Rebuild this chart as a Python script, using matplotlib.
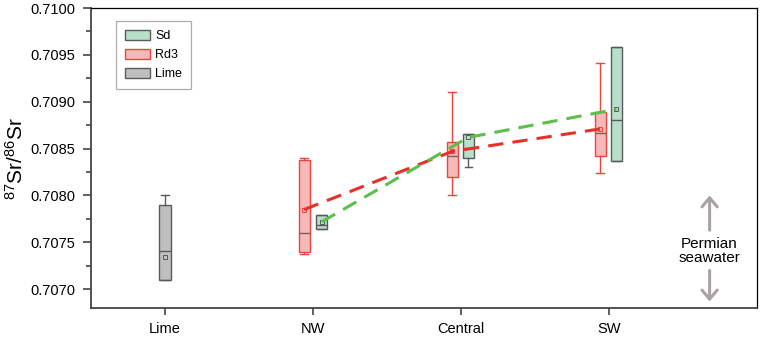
import matplotlib
matplotlib.use("Agg")
import matplotlib.pyplot as plt
from matplotlib.patches import Patch
from matplotlib.ticker import MultipleLocator

plt.rcParams['font.family'] = ['Liberation Sans', 'DejaVu Sans']
plt.rcParams['mathtext.fontset'] = 'custom'
plt.rcParams['mathtext.rm'] = 'Liberation Sans'

# Data
sites = ["Lime", "NW", "Central", "SW"]

# Rd3 stats for NW, Central, SW
rd3_q1 = [0.70740, 0.70820, 0.70842]
rd3_q3 = [0.70838, 0.70857, 0.70889]
rd3_med = [0.70760, 0.70842, 0.70867]
rd3_mean = [0.70785, 0.70847, 0.70871]
rd3_lo = [0.70738, 0.70801, 0.70824]
rd3_hi = [0.70840, 0.70910, 0.70941]

# Sd stats for NW, Central, SW
sd_q1 = [0.707638, 0.70840, 0.70837]
sd_q3 = [0.707790, 0.70866, 0.70958]
sd_med = [0.707688, 0.70851, 0.70881]
sd_mean = [0.70772, 0.70862, 0.70892]
sd_lo = [0.707638, 0.70830, 0.70837]
sd_hi = [0.707790, 0.70866, 0.70958]

# Lime stats
lime_q1, lime_q3, lime_med, lime_mean = 0.70710, 0.70790, 0.70741, 0.70734
lime_lo, lime_hi = 0.70710, 0.70800

RED = "#e8453f"
RED_FILL = "#f6b9b9"
GREEN_FILL = "#b7dfc9"
GRAY_FILL = "#bfbfbf"
EDGE = "#5a5a5a"


def make_stats(q1, q3, med, mean, lo, hi):
    return [dict(q1=a, q3=b, med=c, mean=d, whislo=e, whishi=f, fliers=[])
            for a, b, c, d, e, f in zip(q1, q3, med, mean, lo, hi)]


fig = plt.figure(figsize=(7.62, 3.38), dpi=100)
ax = fig.add_axes([0.1194, 0.0888, 0.874, 0.8875])

xpos = [1, 2, 3, 4]
rd3_x = [x - 0.06 for x in xpos[1:]]
sd_x = [x + 0.05 for x in xpos[1:]]
sd_x[0] = 2.06

mean_style = dict(marker="s", markersize=3.5, markerfacecolor="none", markeredgewidth=0.7)

ax.bxp(make_stats(rd3_q1, rd3_q3, rd3_med, rd3_mean, rd3_lo, rd3_hi),
       positions=rd3_x, widths=0.075, capwidths=0.05, patch_artist=True, showmeans=True,
       boxprops=dict(facecolor=RED_FILL, edgecolor=RED, linewidth=1.0),
       whiskerprops=dict(color=RED, linewidth=1.0),
       capprops=dict(color=RED, linewidth=1.0),
       medianprops=dict(color="#7a6060", linewidth=1.0),
       meanprops=dict(markeredgecolor=RED, **mean_style))

ax.bxp(make_stats(sd_q1, sd_q3, sd_med, sd_mean, sd_lo, sd_hi),
       positions=sd_x, widths=0.075, capwidths=0.05, patch_artist=True, showmeans=True,
       boxprops=dict(facecolor=GREEN_FILL, edgecolor=EDGE, linewidth=1.0),
       whiskerprops=dict(color=EDGE, linewidth=1.0),
       capprops=dict(color=EDGE, linewidth=1.0),
       medianprops=dict(color=EDGE, linewidth=1.0),
       meanprops=dict(markeredgecolor=EDGE, **mean_style))

ax.bxp(make_stats([lime_q1], [lime_q3], [lime_med], [lime_mean], [lime_lo], [lime_hi]),
       positions=[1.0], widths=0.08, capwidths=0.05, patch_artist=True, showmeans=True,
       boxprops=dict(facecolor=GRAY_FILL, edgecolor=EDGE, linewidth=1.0),
       whiskerprops=dict(color=EDGE, linewidth=1.0),
       capprops=dict(color=EDGE, linewidth=1.0),
       medianprops=dict(color=EDGE, linewidth=1.0),
       meanprops=dict(markeredgecolor=EDGE, **mean_style))

# mean trend lines
ax.plot(rd3_x, rd3_mean, color="#e8302a", linestyle=(0, (5, 3)), linewidth=2.2, zorder=4)
ax.plot(sd_x, sd_mean, color="#5cbf4a", linestyle=(0, (5, 3)), linewidth=2.2, zorder=4)

# Permian seawater arrows
arrow_col = "#aaa2a2"
astyle = "->,head_length=0.65,head_width=0.55"
ax.annotate("", xy=(4.68, 0.70803), xytext=(4.68, 0.70760),
            arrowprops=dict(arrowstyle=astyle, color=arrow_col, lw=2.2))
ax.annotate("", xy=(4.68, 0.70684), xytext=(4.68, 0.70723),
            arrowprops=dict(arrowstyle=astyle, color=arrow_col, lw=2.2))
ax.text(4.68, 0.70741, "Permian\nseawater", ha="center", va="center", fontsize=11,
        linespacing=1.05)

ax.set_xlim(0.5, 5.0)
ax.set_ylim(0.7068, 0.7100)
ax.set_xticks(xpos)
ax.set_xticklabels(sites, fontsize=10.5)
ax.yaxis.set_major_locator(MultipleLocator(0.0005))
ax.yaxis.set_minor_locator(MultipleLocator(0.00025))
ax.yaxis.set_major_formatter(plt.FormatStrFormatter("%.4f"))
ax.tick_params(axis="y", labelsize=10.5, length=6, width=1.2, color="#444444", pad=5)
ax.tick_params(axis="y", which="minor", length=3.5, width=1.2, color="#444444")
ax.tick_params(axis="x", length=5, width=1.2, color="#444444", pad=5)
ax.set_ylabel(r"$\mathregular{^{87}Sr/^{86}Sr}$", fontsize=15, labelpad=3)

for side in ["left", "bottom"]:
    ax.spines[side].set_linewidth(1.3)
    ax.spines[side].set_color("#444444")
for side in ["top", "right"]:
    ax.spines[side].set_linewidth(0.9)

handles = [Patch(facecolor=GREEN_FILL, edgecolor=EDGE, label="Sd"),
           Patch(facecolor=RED_FILL, edgecolor=RED, label="Rd3"),
           Patch(facecolor=GRAY_FILL, edgecolor=EDGE, label="Lime")]
leg = ax.legend(handles=handles, loc="upper left", bbox_to_anchor=(0.0375, 0.957),
                fontsize=9, frameon=True, fancybox=False, edgecolor="#999999",
                handlelength=2.0, handleheight=0.95, handletextpad=0.45,
                borderpad=0.7, labelspacing=0.5, borderaxespad=0)
leg.get_frame().set_linewidth(0.9)

fig.savefig("out.png", dpi=100)
